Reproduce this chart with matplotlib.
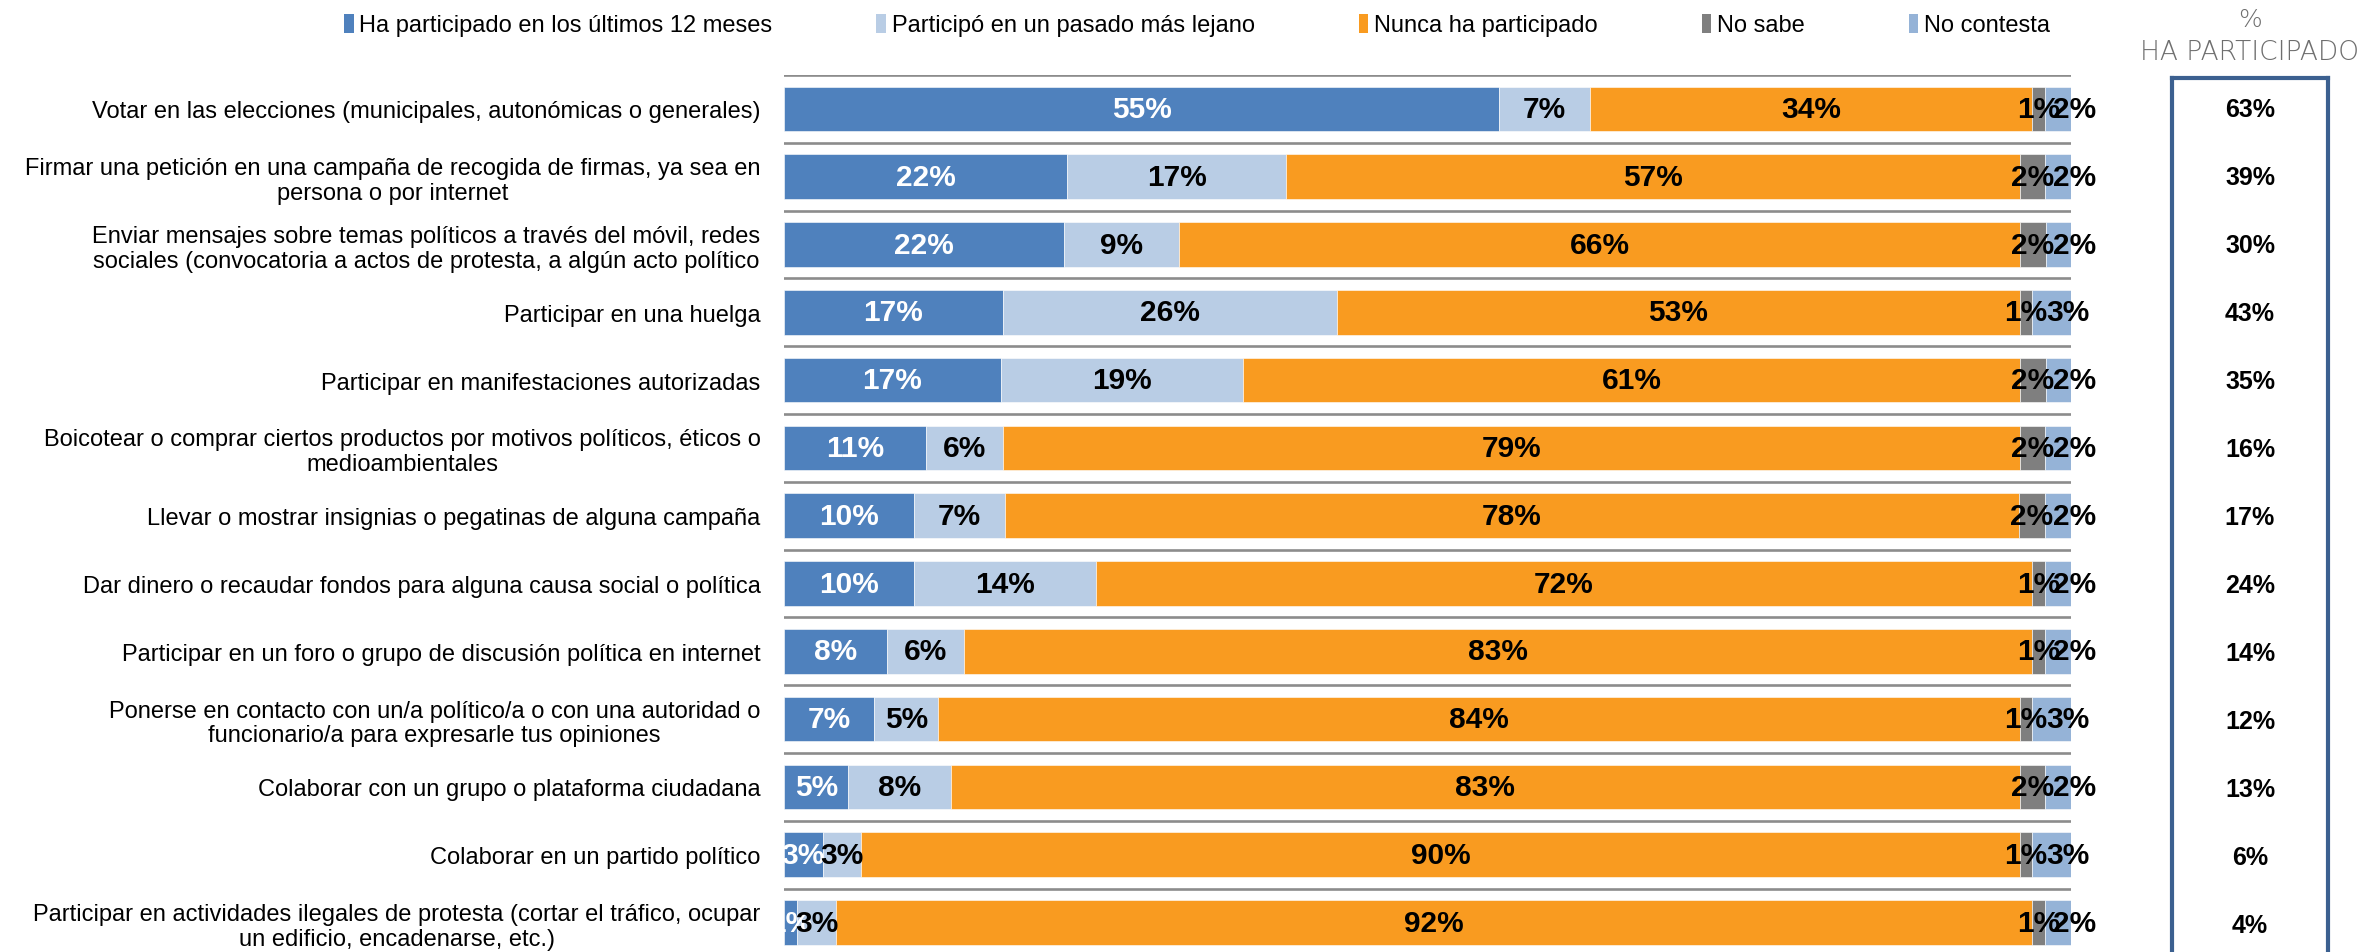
import numpy as np
import matplotlib
matplotlib.use("Agg")
import matplotlib.pyplot as plt
from matplotlib.patches import Patch

plt.rcParams['font.family'] = ['Liberation Sans', 'DejaVu Sans']

# data
actividades = [
    "Votar en las elecciones (municipales, autonómicas o generales)",
    "Firmar una petición en una campaña de recogida de firmas, ya sea en\npersona o por internet",
    "Enviar mensajes sobre temas políticos a través del móvil, redes\nsociales (convocatoria a actos de protesta, a algún acto político",
    "Participar en una huelga",
    "Participar en manifestaciones autorizadas",
    "Boicotear o comprar ciertos productos por motivos políticos, éticos o\nmedioambientales",
    "Llevar o mostrar insignias o pegatinas de alguna campaña",
    "Dar dinero o recaudar fondos para alguna causa social o política",
    "Participar en un foro o grupo de discusión política en internet",
    "Ponerse en contacto con un/a político/a o con una autoridad o\nfuncionario/a para expresarle tus opiniones",
    "Colaborar con un grupo o plataforma ciudadana",
    "Colaborar en un partido político",
    "Participar en actividades ilegales de protesta (cortar el tráfico, ocupar\nun edificio, encadenarse, etc.)",
]
ultimos12 = [55, 22, 22, 17, 17, 11, 10, 10, 8, 7, 5, 3, 1]
pasado = [7, 17, 9, 26, 19, 6, 7, 14, 6, 5, 8, 3, 3]
nunca = [34, 57, 66, 53, 61, 79, 78, 72, 83, 84, 83, 90, 92]
no_sabe = [1, 2, 2, 1, 2, 2, 2, 1, 1, 1, 2, 1, 1]
no_contesta = [2, 2, 2, 3, 2, 2, 2, 2, 2, 3, 2, 3, 2]
ha_participado = [63, 39, 30, 43, 35, 16, 17, 24, 14, 12, 13, 6, 4]

series_names = ["Ha participado en los últimos 12 meses", "Participó en un pasado más lejano",
                "Nunca ha participado", "No sabe", "No contesta"]
colors = ["#4F81BD", "#B9CDE5", "#F99B20", "#7F7F7F", "#95B3D7"]
label_colors = ["white", "black", "black", "black", "black"]
label_shift = [0, 0, 0, 0, 12]  # points, the last labels sit a bit to the right

W, H = 2379, 953
fig = plt.figure(figsize=(W / 100, H / 100), dpi=100)

ax = fig.add_axes([784 / W, 0, (2071 - 784) / W, 1 - 76 / H])
data = np.array([ultimos12, pasado, nunca, no_sabe, no_contesta], dtype=float)
shares = data / data.sum(axis=0) * 100
y = np.arange(len(actividades))
left = np.zeros(len(actividades))
for i in range(5):
    bars = ax.barh(y, shares[i], left=left, height=0.657, color=colors[i],
                   edgecolor="white", linewidth=0.4, label=series_names[i])
    labels = ax.bar_label(bars, labels=[f"{int(v)}%" for v in data[i]], label_type="center",
                          color=label_colors[i], fontsize=21.5, fontweight="bold")
    for t in labels:
        t.xyann = (label_shift[i], 0)
    left += shares[i]

for k in y:
    ax.axhline(k - 0.5, color="#8C8C8C", lw=1.9, zorder=0)

ax.set_xlim(0, 100)
ax.set_ylim(12.435, -0.5)
ax.set_yticks(y)
ax.set_yticklabels(actividades, fontsize=17, multialignment="center", linespacing=1.15)
ax.tick_params(axis="y", length=0, pad=17)
ax.set_xticks([])
for s in ax.spines.values():
    s.set_visible(False)

# right box with totals
ax2 = fig.add_axes([2172 / W, 0, 156 / W, 1 - 79 / H])
ax2.set_ylim(12.435 - 3 / 67.75, -0.5 + 3 / 67.75)
ax2.set_xlim(0, 1)
for k, v in zip(y, ha_participado):
    ax2.text(0.5, k, f"{v}%", ha="center", va="center", fontsize=18, fontweight="bold")
ax2.set_xticks([])
ax2.set_yticks([])
for name, s in ax2.spines.items():
    s.set_color("#3C6090")
    s.set_linewidth(3.0)
ax2.spines["bottom"].set_visible(False)

fig.text(2250 / W, 1 - 20 / H, "%", ha="center", va="center", fontsize=18,
         color="#6E6E6E", family="DejaVu Sans", fontweight="light")
fig.text(2250 / W, 1 - 53 / H, "HA PARTICIPADO", ha="center", va="center", fontsize=19,
         color="#6E6E6E", family="DejaVu Sans", fontweight="light")

handles = [Patch(facecolor=c, edgecolor="none") for c in colors]
fig.legend(handles, series_names, loc="center", bbox_to_anchor=(1197 / W, 1 - 26 / H),
           ncol=5, frameon=False, fontsize=17, handlelength=0.4, handleheight=0.9,
           handletextpad=0.25, columnspacing=4.4)

fig.savefig("out.png", dpi=100)
